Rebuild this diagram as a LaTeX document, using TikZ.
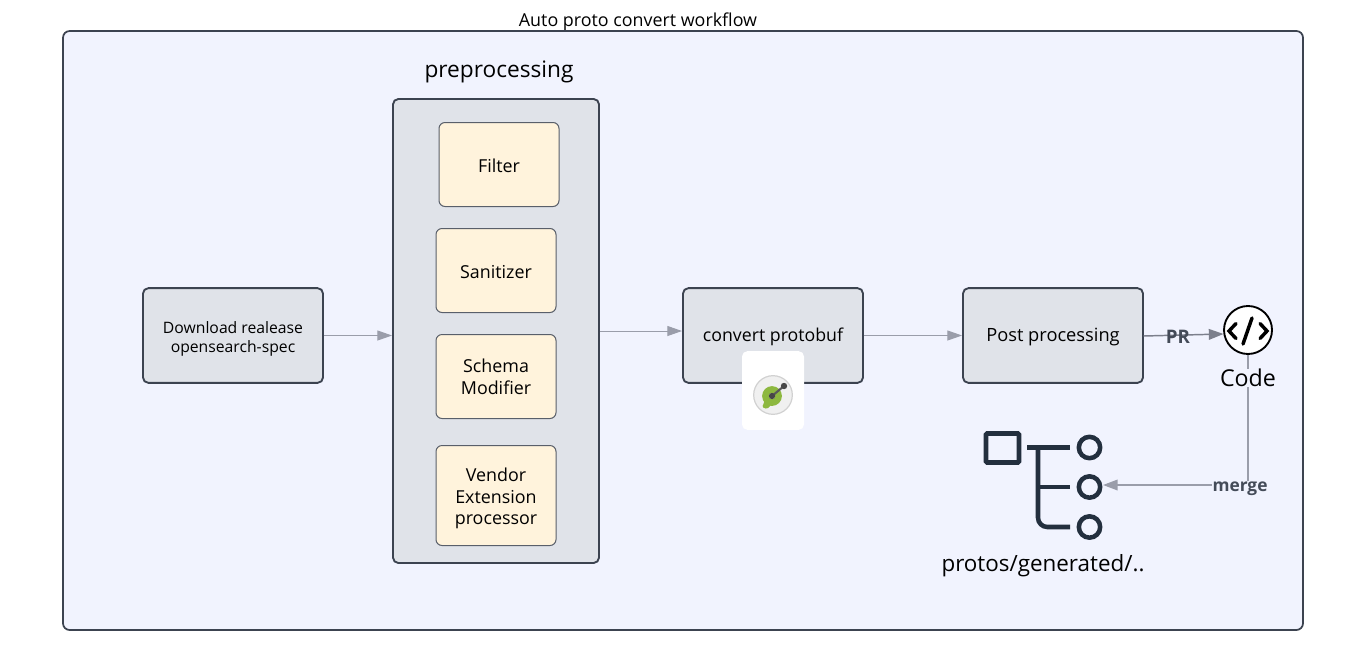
\documentclass[tikz,border=0pt]{standalone}
\usepackage{fontspec}
\setmainfont{Open Sans}
\usetikzlibrary{arrows.meta,backgrounds}
\definecolor{panel}{HTML}{F1F3FE}
\definecolor{grayfill}{HTML}{E0E3E9}
\definecolor{edge}{HTML}{3C4350}
\definecolor{cream}{HTML}{FFF3DC}
\definecolor{wire}{HTML}{9A9DAA}
\definecolor{wiredark}{HTML}{7C7F8C}
\definecolor{treeink}{HTML}{232F3E}
\definecolor{labelink}{HTML}{444B58}
\definecolor{leaf}{HTML}{8DB83F}
\newcommand{\dn}{\rule{0pt}{0.95em}}
\newcommand{\dnb}{\rule{0pt}{1.08em}}
\newcommand{\dnc}{\rule{0pt}{1.2em}}
\tikzset{
  x=0.75pt,y=-0.75pt,
  graybox/.style={draw=edge,fill=grayfill,line width=1.4pt,rounded corners=4pt,inner sep=0pt,align=center,text=black},
  creambox/.style={draw=edge!85,fill=cream,line width=0.75pt,rounded corners=4.5pt,inner sep=0pt,align=center,text=black,font=\fontsize{13.4}{16.2}\selectfont,minimum width=90pt,minimum height=63pt},
  wireline/.style={draw=wire,line width=0.75pt,-{Triangle[length=11pt,width=7.5pt,fill=wire]}},
  edgelabel/.style={text=labelink,inner sep=0pt},
  plain/.style={inner sep=0pt,text=black},
  treeline/.style={draw=treeink,line width=3.4pt},
}
\begin{document}
\begin{tikzpicture}
\useasboundingbox (0,0) rectangle (1366,661);
\fill[white] (0,0) rectangle (1366,661);
\node[plain,font=\fontsize{13.4}{15}\selectfont] (title) at (638,22) {Auto proto convert workflow};
\node[draw=edge,fill=panel,line width=1.3pt,rounded corners=5pt,inner sep=0pt,minimum width=930pt,minimum height=449.25pt] (outer) at (683,330.5) {};
\node[plain,font=\fontsize{17}{20}\selectfont] (pretitle) at (499,72) {preprocessing};
\node[graybox,minimum width=154.5pt,minimum height=348pt] (pre) at (496,331) {};
\node[creambox] (filter) at (499,164.5) {\dn Filter};
\node[creambox] (san) at (496,270.5) {\dn Sanitizer};
\node[creambox] (schema) at (496,376.5) {Schema\\Modifier};
\node[creambox,minimum height=75pt] (vendor) at (496,495.5) {\dnb Vendor\\Extension\\processor};
\node[graybox,minimum width=135pt,minimum height=71pt,font=\fontsize{11.8}{14.4}\selectfont] (dl) at (233,335.5) {\dnc Download realease\\opensearch-spec};
\node[graybox,minimum width=135pt,minimum height=71pt,font=\fontsize{13.3}{16}\selectfont] (conv) at (773,335.5) {\dn convert protobuf};
\node[graybox,minimum width=135pt,minimum height=71pt,font=\fontsize{13.7}{16}\selectfont] (post) at (1053,335.5) {\dn Post processing};
% icon tile
\node[fill=white,rounded corners=4pt,minimum width=46.5pt,minimum height=59pt,inner sep=0pt] (tile) at (773,390.5) {};
\node[circle,draw=black!18,fill=black!6,line width=0.9pt,minimum size=29pt,inner sep=0pt] (badge) at (773,395) {};
\draw[draw=leaf,line width=5pt] (772,396) circle[radius=6.5];
\fill[leaf,rounded corners=1pt] (765,398) -- (772,404) -- (767,409) -- (762,407) -- (764,403) -- cycle;
\draw[draw=black!65,line width=1.6pt] (772,396) -- (784,386);
\fill[black!72] (772,396) circle[radius=3.2];
\fill[black!72] (784,386) circle[radius=3.2];
% code
\node[circle,draw=black,fill=white,line width=1.4pt,minimum size=36pt,inner sep=0pt] (code) at (1248,330) {};
\draw[line width=2.6pt,line cap=round,line join=miter] (1236,323.5) -- (1229,331) -- (1236,338.5);
\draw[line width=2.6pt,line cap=round,line join=miter] (1260,323.5) -- (1267,331) -- (1260,338.5);
\draw[line width=2.6pt,line cap=round] (1252,318) -- (1243,344);
\node[plain,font=\fontsize{17.4}{20}\selectfont] (codelbl) at (1248,378) {Code};
% tree
\draw[draw=treeink,line width=3.4pt,rounded corners=0.8pt] (986,433.5) rectangle (1019,462.5);
\draw[treeline] (1027,447.5) -- (1070,447.5);
\draw[treeline,rounded corners=7pt] (1038,447.5) -- (1038,527) -- (1070,527);
\draw[treeline] (1038,487) -- (1070,487);
\node[circle,draw=treeink,line width=3.4pt,fill=panel,minimum size=16pt,inner sep=0pt] (c1) at (1089.5,447.5) {};
\node[circle,draw=treeink,line width=3.4pt,fill=panel,minimum size=16pt,inner sep=0pt] (c2) at (1089.5,487) {};
\node[circle,draw=treeink,line width=3.4pt,fill=panel,minimum size=16pt,inner sep=0pt] (c3) at (1089.5,527) {};
\node[plain,font=\fontsize{16.8}{20}\selectfont] (treelbl) at (1043,566) {protos/generated/..};
% connectors
\coordinate (a1) at (392,335.5);
\draw[wireline] (dl.east) -- (a1);
\coordinate (a2) at (600,331);
\coordinate (a3) at (682,331);
\draw[wireline] (a2) -- (a3);
\coordinate (a4) at (962,335.5);
\draw[wireline] (conv.east) -- (a4);
\coordinate (a5) at (1143.5,336);
\coordinate (a7) at (1223.5,334);
\draw[draw=wiredark,line width=1.1pt,-{Triangle[length=11pt,width=8pt,fill=wiredark]}] (a5) -- (a7);
\node[edgelabel,font=\fontsize{14}{16}\selectfont\bfseries] (prl) at (1178,336.5) {PR};
\coordinate (a6) at (1248,485);
\draw[draw=wire,line width=1.1pt] (code.south) -- (codelbl.north);
\coordinate (a8) at (1103,485);
\draw[draw=wire,line width=1.1pt,-{Triangle[length=11pt,width=8pt,fill=wire]}] (codelbl.south) -- (a6) -- (a8);
\node[fill=panel,edgelabel,font=\fontsize{13}{15}\selectfont\bfseries,inner xsep=0.5pt,inner ysep=1pt] (ml) at (1240,489) {merge};
\end{tikzpicture}
\end{document}
